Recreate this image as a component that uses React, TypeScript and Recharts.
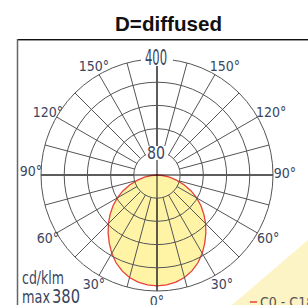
import React from 'react';
import { RadarChart, Radar, PolarGrid, PolarAngleAxis, PolarRadiusAxis } from 'recharts';

// Gamma angles (deg) and luminous intensity (cd/klm) of the C0 - C180 plane
const GAMMA = [0, 5, 10, 15, 20, 25, 30, 35, 40, 45, 50, 55, 60, 65, 70, 75, 80, 85, 90,
  95, 100, 105, 110, 115, 120, 125, 130, 135, 140, 145, 150, 155, 160, 165, 170, 175, 180];
const INTENSITY_C0_C180 = [382, 380, 375, 366, 352, 334, 312, 287, 262, 237, 211, 185, 158, 130, 99, 71, 44, 20, 0,
  0, 0, 0, 0, 0, 0, 0, 0, 0, 0, 0, 0, 0, 0, 0, 0, 0, 0];

// grid positions: degrees clockwise from the top of the diagram
const GRID_POSITIONS = ['0', '15', '30', '45', '60', '75', '90', '105', '120', '135', '150', '165',
  '180', '195', '210', '225', '240', '255', '270', '285', '300', '315', '330', '345'];
const AXIS_POSITIONS = ['0', '90', '180', '270'];
const LABELLED_ANGLES = [0, 30, 60, 90, 120, 150];
const RADIUS_LABELS = [80, 400];
const RADIUS_DOMAIN: [number, number] = [0, 400];

const TITLE = 'D=diffused';
const UNIT = 'cd/klm';
const MAX_TEXT = 'max';
const MAX_VALUE = '380';
const LEGEND_TEXT = 'C0 - C180';

// full-circle table, clockwise from top: right half gamma 180..0, left half gamma 5..175
const rightHalf = GAMMA.map((g, i) => ({ g, val: INTENSITY_C0_C180[i] })).reverse();
const leftHalf = GAMMA.slice(1, GAMMA.length - 1).map((g) => ({ g, val: INTENSITY_C0_C180[GAMMA.indexOf(g)] }));
const curveData = [
  ...rightHalf.map((d) => ({ pos: String(180 - d.g), val: d.val })),
  ...leftHalf.map((d) => ({ pos: String(180 + d.g), val: d.val })),
];
const gridData = GRID_POSITIONS.map((p) => ({ pos: p, val: 0 }));
const axisData = AXIS_POSITIONS.map((p) => ({ pos: p, val: 0 }));

const W = 308;
const H = 305;
const CX = 157;
const CY = 175;
const OUTER = 116;
const INNER = 23.2;
const NARROW = "'Liberation Sans Narrow', 'Arial Narrow', 'DejaVu Sans Condensed', sans-serif";
const LABEL_COLOR = '#3a4660';

const AngleTick = (props: any) => {
  const { x, y, payload } = props;
  const p = Number(payload.value);
  const gamma = Math.abs(180 - p);
  if (!LABELLED_ANGLES.includes(gamma)) return <g />;
  const right = p > 0 && p < 180;
  let dx = 0;
  let dy = 0;
  if (right) dx = gamma >= 120 ? 5 : 2;
  if (gamma === 90) dy = right ? -2 : -4;
  const text = `${gamma}°`;
  return (
    <text
      x={x + dx}
      y={y + dy}
      textAnchor="middle"
      dominantBaseline="central"
      fontSize={14}
      fontFamily={NARROW}
      fill={LABEL_COLOR}
    >
      {text}
    </text>
  );
};

const RadiusTick = (props: any) => {
  const { x, y, payload } = props;
  const v = Number(payload.value);
  if (!RADIUS_LABELS.includes(v)) return <g />;
  const big = v === 400;
  const w = big ? 32 : 22;
  const h = big ? 17 : 14;
  const cyText = big ? y - 1.5 : y + 1.2;
  return (
    <g>
      <rect x={x - w / 2} y={cyText - h / 2} width={w} height={h} fill="#fff" />
      <text
        x={x - 1}
        y={cyText}
        textAnchor="middle"
        dominantBaseline="central"
        fontSize={big ? 21 : 17}
        fontFamily={NARROW}
        fill={LABEL_COLOR}
        textLength={big ? 22 : 18}
        lengthAdjust="spacingAndGlyphs"
      >
        {String(v)}
      </text>
    </g>
  );
};

const layer: React.CSSProperties = { position: 'absolute', left: 0, top: 0 };
const common = {
  width: W,
  height: H,
  cx: CX,
  cy: CY,
  outerRadius: OUTER,
  startAngle: 90,
  endAngle: -270,
  margin: { top: 0, right: 0, bottom: 0, left: 0 },
};

export default function App() {
  return (
    <div style={{ position: 'absolute', left: 0, top: 0, width: W, height: H, overflow: 'hidden', background: '#fff' }}>
      <svg style={layer} width={W} height={H}>
        <polygon points="308,240 308,305 232,305" fill="#fcf4c4" />
        <line x1={17} y1={39.5} x2={308} y2={39.5} stroke="#111" strokeWidth={1} />
        <line x1={17} y1={40.5} x2={308} y2={40.5} stroke="#999" strokeWidth={1} />
        <line x1={17.5} y1={39} x2={17.5} y2={305} stroke="#666" strokeWidth={1.5} />
        <text x={168.5} y={31} textAnchor="middle" fontSize={21} fontWeight="bold"
          fontFamily="'Liberation Sans', Arial, sans-serif" fill="#111" textLength={107} lengthAdjust="spacingAndGlyphs">
          {TITLE}
        </text>
        <text x={22} y={284} fontSize={17} fontFamily={NARROW} fill={LABEL_COLOR} textLength={42} lengthAdjust="spacingAndGlyphs">
          {UNIT}
        </text>
        <text x={22} y={302.5} fontSize={17} fontFamily={NARROW} fill={LABEL_COLOR} textLength={28} lengthAdjust="spacingAndGlyphs">
          {MAX_TEXT}
        </text>
        <text x={52} y={302.5} fontSize={19} fontFamily={NARROW} fill={LABEL_COLOR} textLength={28} lengthAdjust="spacingAndGlyphs">
          {MAX_VALUE}
        </text>
        <line x1={250} y1={302} x2={257} y2={302} stroke="#e8403a" strokeWidth={1.5} />
        <text x={260} y={307} fontSize={14} fontFamily={NARROW} fill="#555">
          {LEGEND_TEXT}
        </text>
      </svg>

      <div style={layer}>
        <RadarChart {...common} innerRadius={0} data={curveData}>
          <PolarAngleAxis dataKey="pos" tick={false} tickLine={false} axisLine={false} />
          <PolarRadiusAxis domain={RADIUS_DOMAIN} tick={false} axisLine={false} />
          <Radar dataKey="val" stroke="#e8403a" strokeWidth={1.3} fill="#fff4a6" fillOpacity={1} dot={false} isAnimationActive={false} />
        </RadarChart>
      </div>

      <div style={layer}>
        <RadarChart {...common} innerRadius={INNER} data={gridData}>
          <PolarGrid gridType="circle" polarRadius={[]} stroke="#555" strokeWidth={1} />
          <PolarAngleAxis dataKey="pos" tick={AngleTick} tickSize={10} tickLine={false} axisLine={false} />
          <PolarRadiusAxis domain={RADIUS_DOMAIN} tick={false} axisLine={false} />
          <Radar dataKey="val" stroke="none" fill="none" dot={false} isAnimationActive={false} />
        </RadarChart>
      </div>

      <div style={layer}>
        <RadarChart {...common} innerRadius={0} data={axisData}>
          <PolarGrid gridType="circle" polarRadius={[]} stroke="#111" strokeWidth={1} />
          <PolarGrid gridType="circle" radialLines={false} stroke="#555" strokeWidth={1} />
          <PolarAngleAxis dataKey="pos" tick={false} tickLine={false} axisLine={false} />
          <Radar dataKey="val" stroke="none" fill="none" dot={false} isAnimationActive={false} />
          <PolarRadiusAxis angle={90} domain={RADIUS_DOMAIN} tickCount={6} axisLine={false} tickLine={false} tick={RadiusTick} />
        </RadarChart>
      </div>
    </div>
  );
}
